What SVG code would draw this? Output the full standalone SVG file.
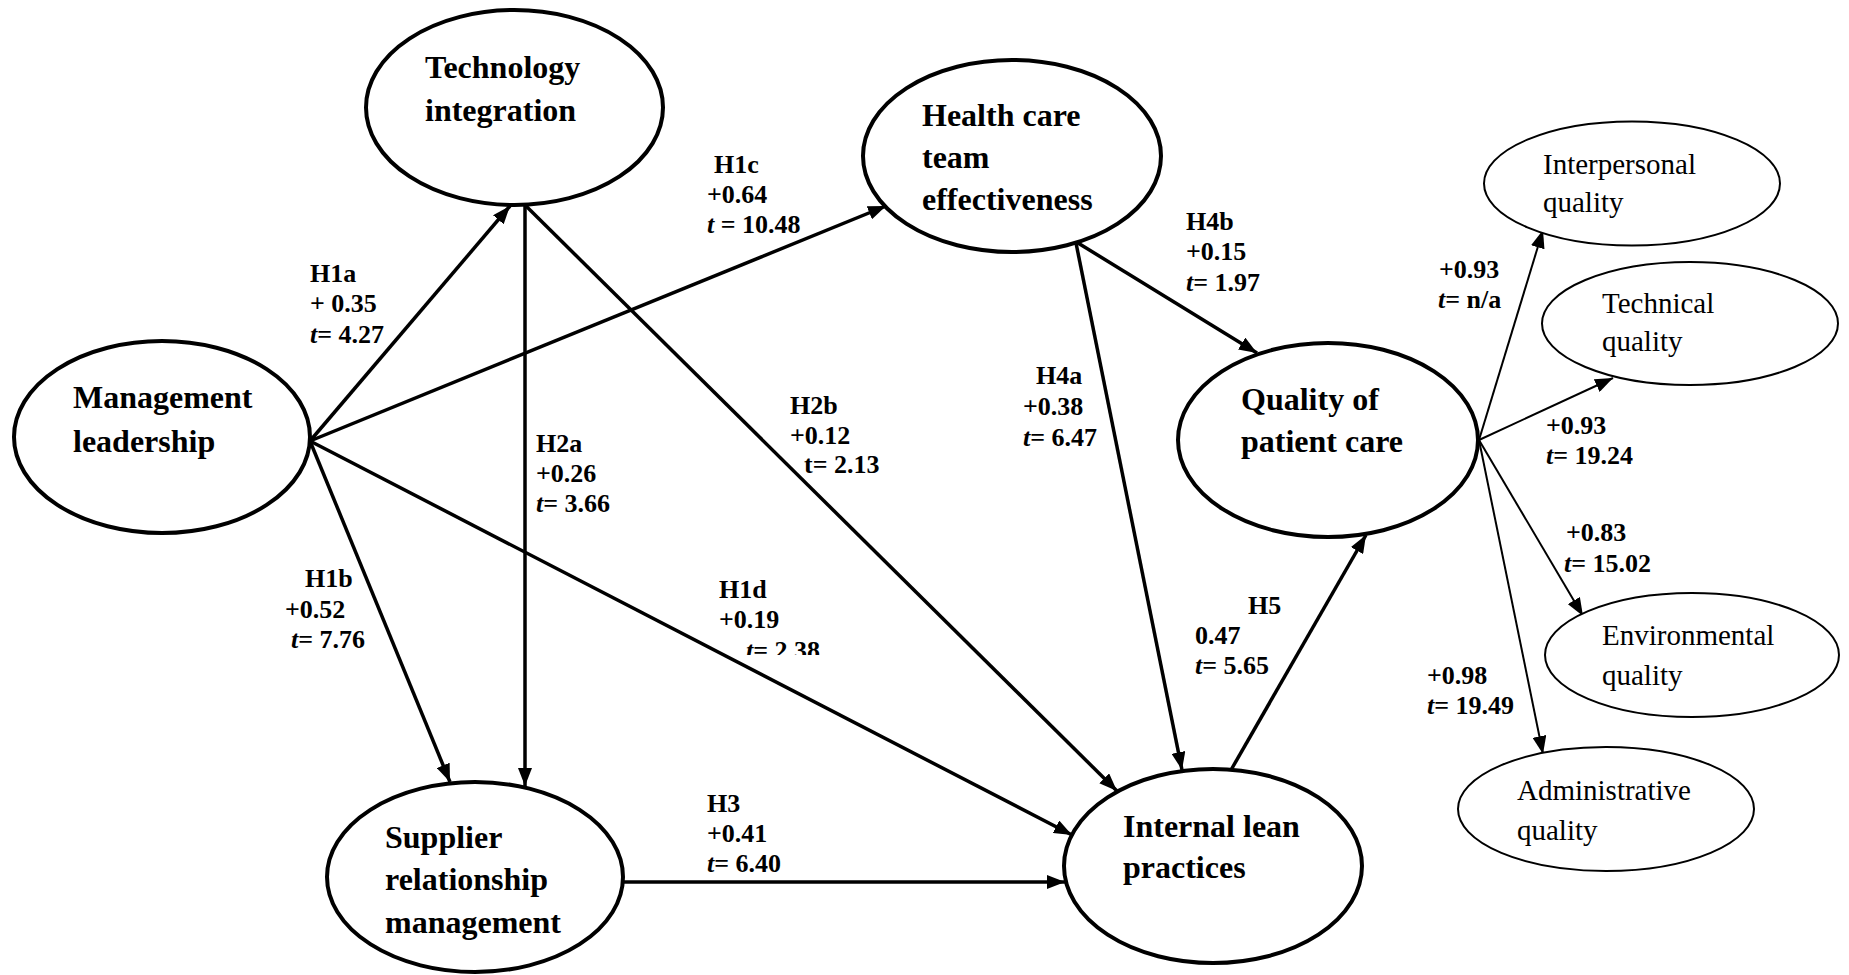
<svg xmlns="http://www.w3.org/2000/svg" width="1849" height="975" viewBox="0 0 1849 975">
  <style>
    .node { fill: #fff; stroke: #000; stroke-width: 4; }
    .sub { fill: #fff; stroke: #000; stroke-width: 2; }
    .edge { stroke: #000; stroke-width: 3.5; fill: none; marker-end: url(#arrow); }
    .thin { stroke: #000; stroke-width: 2; fill: none; marker-end: url(#arrow); }
    .nt { font-family: "Liberation Serif", "Times New Roman", serif; font-weight: bold; font-size: 32px; fill: #000; }
    .st { font-family: "Liberation Serif", "Times New Roman", serif; font-size: 29px; fill: #000; }
    .lb { font-family: "Liberation Serif", "Times New Roman", serif; font-weight: bold; font-size: 26px; fill: #000; }
    .it { font-style: italic; }
  </style>
  <defs>
    <marker id="arrow" markerUnits="userSpaceOnUse" markerWidth="18" markerHeight="14" refX="18" refY="7" orient="auto">
      <path d="M0,0 L18,7 L0,14 z" fill="#000"/>
    </marker>
    <clipPath id="cut-h1d">
      <rect x="600" y="560" width="300" height="95"/>
    </clipPath>
  </defs>
  <rect width="1849" height="975" fill="#fff"/>

  <!-- connectors -->
  <g id="connectors">
    <line class="edge" x1="310" y1="441" x2="510" y2="206"/>
    <line class="edge" x1="310" y1="441" x2="886" y2="206"/>
    <line class="edge" x1="310" y1="441" x2="1072" y2="835"/>
    <line class="edge" x1="310" y1="441" x2="450" y2="782"/>
    <line class="edge" x1="525" y1="206" x2="525" y2="786"/>
    <line class="edge" x1="526" y1="206" x2="1117" y2="791"/>
    <line class="edge" x1="1076" y1="243" x2="1182" y2="770"/>
    <line class="edge" x1="1078" y1="243" x2="1257" y2="353"/>
    <line class="edge" x1="623" y1="882" x2="1065" y2="882"/>
    <line class="edge" x1="1231" y1="770" x2="1366" y2="535"/>
    <line class="thin" x1="1479" y1="440" x2="1543" y2="230"/>
    <line class="thin" x1="1479" y1="440" x2="1613" y2="378"/>
    <line class="thin" x1="1479" y1="440" x2="1583" y2="616"/>
    <line class="thin" x1="1479" y1="440" x2="1543" y2="754"/>
  </g>

  <!-- path labels -->
  <g id="labels">
    <text class="lb" x="310" y="282">H1a</text>
    <text class="lb" x="310" y="312">+ 0.35</text>
    <text class="lb" x="310" y="343"><tspan class="it">t</tspan>= 4.27</text>

    <text class="lb" x="714" y="173">H1c</text>
    <text class="lb" x="707" y="203">+0.64</text>
    <text class="lb" x="707" y="233"><tspan class="it">t</tspan> = 10.48</text>

    <text class="lb" x="790" y="414">H2b</text>
    <text class="lb" x="790" y="444">+0.12</text>
    <text class="lb" x="804" y="473">t= 2.13</text>

    <text class="lb" x="536" y="452">H2a</text>
    <text class="lb" x="536" y="482">+0.26</text>
    <text class="lb" x="536" y="512"><tspan class="it">t</tspan>= 3.66</text>

    <text class="lb" x="1036" y="384">H4a</text>
    <text class="lb" x="1023" y="415">+0.38</text>
    <text class="lb" x="1023" y="446"><tspan class="it">t</tspan>= 6.47</text>

    <text class="lb" x="1186" y="230">H4b</text>
    <text class="lb" x="1186" y="260">+0.15</text>
    <text class="lb" x="1186" y="291"><tspan class="it">t</tspan>= 1.97</text>

    <text class="lb" x="305" y="587">H1b</text>
    <text class="lb" x="285" y="618">+0.52</text>
    <text class="lb" x="291" y="648"><tspan class="it">t</tspan>= 7.76</text>

    <text class="lb" x="719" y="598">H1d</text>
    <text class="lb" x="719" y="628">+0.19</text>
    <text class="lb" x="746" y="659" clip-path="url(#cut-h1d)"><tspan class="it">t</tspan>= 2.38</text>

    <text class="lb" x="707" y="812">H3</text>
    <text class="lb" x="707" y="842">+0.41</text>
    <text class="lb" x="707" y="872"><tspan class="it">t</tspan>= 6.40</text>

    <text class="lb" x="1248" y="614">H5</text>
    <text class="lb" x="1195" y="644">0.47</text>
    <text class="lb" x="1195" y="674"><tspan class="it">t</tspan>= 5.65</text>

    <text class="lb" x="1439" y="278">+0.93</text>
    <text class="lb" x="1438" y="308"><tspan class="it">t</tspan>= n/a</text>

    <text class="lb" x="1546" y="434">+0.93</text>
    <text class="lb" x="1546" y="464"><tspan class="it">t</tspan>= 19.24</text>

    <text class="lb" x="1566" y="541">+0.83</text>
    <text class="lb" x="1564" y="572"><tspan class="it">t</tspan>= 15.02</text>

    <text class="lb" x="1427" y="684">+0.98</text>
    <text class="lb" x="1427" y="714"><tspan class="it">t</tspan>= 19.49</text>
  </g>

  <!-- constructs -->
  <g id="technology-integration">
    <ellipse class="node" cx="514.5" cy="107.5" rx="148.5" ry="97.5"/>
    <text class="nt" x="425" y="78">Technology</text>
    <text class="nt" x="425" y="121">integration</text>
  </g>
  <g id="management-leadership">
    <ellipse class="node" cx="162" cy="437" rx="148" ry="96"/>
    <text class="nt" x="73" y="408">Management</text>
    <text class="nt" x="73" y="452">leadership</text>
  </g>
  <g id="health-care-team-effectiveness">
    <ellipse class="node" cx="1012" cy="156" rx="149" ry="96"/>
    <text class="nt" x="922" y="126">Health care</text>
    <text class="nt" x="922" y="168">team</text>
    <text class="nt" x="922" y="210">effectiveness</text>
  </g>
  <g id="quality-of-patient-care">
    <ellipse class="node" cx="1328" cy="440" rx="150" ry="97"/>
    <text class="nt" x="1241" y="410">Quality of</text>
    <text class="nt" x="1241" y="452">patient care</text>
  </g>
  <g id="supplier-relationship-management">
    <ellipse class="node" cx="475" cy="877" rx="148" ry="95"/>
    <text class="nt" x="385" y="848">Supplier</text>
    <text class="nt" x="385" y="890">relationship</text>
    <text class="nt" x="385" y="933">management</text>
  </g>
  <g id="internal-lean-practices">
    <ellipse class="node" cx="1213" cy="866" rx="149" ry="97"/>
    <text class="nt" x="1123" y="837">Internal lean</text>
    <text class="nt" x="1123" y="878">practices</text>
  </g>

  <!-- quality dimensions -->
  <g id="interpersonal-quality">
    <ellipse class="sub" cx="1632" cy="183.5" rx="148" ry="62"/>
    <text class="st" x="1543" y="174">Interpersonal</text>
    <text class="st" x="1543" y="212">quality</text>
  </g>
  <g id="technical-quality">
    <ellipse class="sub" cx="1690" cy="323.5" rx="148" ry="61.5"/>
    <text class="st" x="1602" y="313">Technical</text>
    <text class="st" x="1602" y="351">quality</text>
  </g>
  <g id="environmental-quality">
    <ellipse class="sub" cx="1692" cy="655" rx="147" ry="62"/>
    <text class="st" x="1602" y="645">Environmental</text>
    <text class="st" x="1602" y="685">quality</text>
  </g>
  <g id="administrative-quality">
    <ellipse class="sub" cx="1606" cy="809" rx="148" ry="62"/>
    <text class="st" x="1517" y="800">Administrative</text>
    <text class="st" x="1517" y="840">quality</text>
  </g>
</svg>
